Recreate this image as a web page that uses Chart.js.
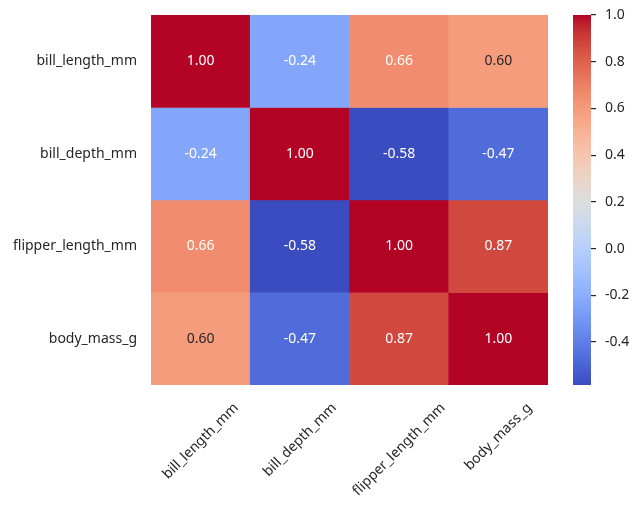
<!DOCTYPE html>
<html>
<head>
<meta charset="utf-8">
<script src="https://cdn.jsdelivr.net/npm/chart.js@4.4.1/dist/chart.umd.min.js"></script>
<style>
  html, body { margin: 0; padding: 0; background: #ffffff; }
  #wrap { position: relative; width: 640px; height: 510px; }
  canvas { position: absolute; left: 0; top: 0; }
</style>
</head>
<body>
<div id="wrap">
  <canvas id="heat" width="640" height="510"></canvas>
  <canvas id="cbar" width="640" height="510"></canvas>
</div>
<script>
// ---------- data ----------
const variables = ['bill_length_mm', 'bill_depth_mm', 'flipper_length_mm', 'body_mass_g'];
const rowBillLength  = [1.0000, -0.2351, 0.6562, 0.5951];
const rowBillDepth   = [-0.2351, 1.0000, -0.5839, -0.4719];
const rowFlipper     = [0.6562, -0.5839, 1.0000, 0.8712];
const rowBodyMass    = [0.5951, -0.4719, 0.8712, 1.0000];
const colorbarTicks  = [-0.4, -0.2, 0.0, 0.2, 0.4, 0.6, 0.8, 1.0];

const rows = [rowBillLength, rowBillDepth, rowFlipper, rowBodyMass];
const allVals = rows.flat();
const vmin = Math.min(...allVals);
const vmax = Math.max(...allVals);

// ---------- coolwarm colormap ----------
const coolwarm = [
  [59,76,192],[68,90,204],[77,104,215],[87,117,225],[98,130,234],[108,142,241],
  [119,154,247],[130,165,251],[141,176,254],[152,185,255],[163,194,255],[174,201,253],
  [184,208,249],[194,213,244],[204,217,238],[213,219,230],[221,221,221],[229,216,209],
  [236,211,197],[241,204,185],[245,196,173],[247,187,160],[247,177,148],[247,166,135],
  [244,154,123],[241,141,111],[236,127,99],[229,112,88],[222,96,77],[213,80,66],
  [203,62,56],[192,40,47],[180,4,38]
];
function cmapRGB(t) {
  t = Math.max(0, Math.min(1, t));
  const p = t * (coolwarm.length - 1);
  const i = Math.min(Math.floor(p), coolwarm.length - 2);
  const f = p - i;
  const a = coolwarm[i], b = coolwarm[i + 1];
  return [0,1,2].map(k => a[k] + (b[k] - a[k]) * f);
}
function rgbStr(c) { return 'rgb(' + c.map(v => Math.round(v)).join(',') + ')'; }
function norm(v) { return (v - vmin) / (vmax - vmin); }
function luminance(c) {
  const lin = c.map(v => { v /= 255; return v <= 0.03928 ? v / 12.92 : Math.pow((v + 0.055) / 1.055, 2.4); });
  return 0.2126 * lin[0] + 0.7152 * lin[1] + 0.0722 * lin[2];
}

const FONT = '"Noto Sans", "DejaVu Sans", sans-serif';
const TEXT = '#262626';
const H_TOP = 15, H_BOTTOM = 385, H_LEFT = 151, H_RIGHT = 548;

// ---------- annotation + rotated x labels ----------
const heatText = {
  id: 'heatText',
  afterDatasetsDraw(chart) {
    const ctx = chart.ctx, xs = chart.scales.x, ys = chart.scales.y;
    ctx.save();
    ctx.font = '14px ' + FONT;
    ctx.textAlign = 'center';
    ctx.textBaseline = 'middle';
    rows.forEach((row, i) => {
      row.forEach((v, j) => {
        const c = cmapRGB(norm(v));
        ctx.fillStyle = luminance(c) > 0.408 ? TEXT : '#ffffff';
        ctx.fillText(v.toFixed(2), xs.getPixelForValue(j), ys.getPixelForValue(i + 0.5));
      });
    });
    // rotated x tick labels (centered, like matplotlib ha='center', rotation=45)
    ctx.fillStyle = TEXT;
    const top = chart.chartArea.bottom + 15;
    const hh = 16;
    variables.forEach((lab, j) => {
      const w = ctx.measureText(lab).width;
      const cx = xs.getPixelForValue(j);
      const cy = top + (w + hh) / (2 * Math.SQRT2);
      ctx.save();
      ctx.translate(cx, cy);
      ctx.rotate(-Math.PI / 4);
      ctx.fillText(lab, 0, 0);
      ctx.restore();
    });
    ctx.restore();
  }
};

new Chart(document.getElementById('heat'), {
  type: 'bar',
  data: {
    labels: variables,
    datasets: rows.map((row, i) => ({
      label: variables[i],
      data: row.map(() => [i, i + 1]),
      backgroundColor: row.map(v => rgbStr(cmapRGB(norm(v)))),
      borderWidth: 0,
      barPercentage: 1,
      categoryPercentage: 1,
      grouped: false
    }))
  },
  options: {
    responsive: false,
    animation: false,
    devicePixelRatio: 1,
    layout: { padding: { top: H_TOP, right: 640 - H_RIGHT, left: 0, bottom: 0 } },
    plugins: { legend: { display: false }, tooltip: { enabled: false } },
    scales: {
      x: {
        type: 'category',
        grid: { display: false, drawTicks: false },
        border: { display: false },
        ticks: { display: false },
        afterFit(s) { s.height = 510 - H_BOTTOM; s.paddingLeft = 0; s.paddingRight = 0; }
      },
      y: {
        type: 'linear',
        min: 0, max: variables.length,
        reverse: true,
        grid: { display: false, drawTicks: false },
        border: { display: false },
        afterBuildTicks(s) { s.ticks = variables.map((_, i) => ({ value: i + 0.5 })); },
        ticks: {
          autoSkip: false,
          padding: 14,
          color: TEXT,
          font: { family: FONT, size: 14 },
          callback: (v) => variables[Math.floor(v)]
        },
        afterFit(s) { s.width = H_LEFT; s.paddingTop = 0; s.paddingBottom = 0; }
      }
    }
  },
  plugins: [heatText]
});

// ---------- colorbar ----------
const CB_LEFT = 573, CB_RIGHT = 591;
new Chart(document.getElementById('cbar'), {
  type: 'bar',
  data: {
    labels: [''],
    datasets: [{
      data: [[vmin, vmax]],
      backgroundColor(ctx) {
        const ch = ctx.chart, ca = ch.chartArea;
        if (!ca) return 'rgba(0,0,0,0)';
        const g = ch.ctx.createLinearGradient(0, ca.bottom, 0, ca.top);
        coolwarm.forEach((c, k) => g.addColorStop(k / (coolwarm.length - 1), rgbStr(c)));
        return g;
      },
      borderWidth: 0,
      barPercentage: 1,
      categoryPercentage: 1
    }]
  },
  options: {
    responsive: false,
    animation: false,
    devicePixelRatio: 1,
    layout: { padding: { top: H_TOP, left: CB_LEFT, right: 0, bottom: 510 - H_BOTTOM } },
    plugins: { legend: { display: false }, tooltip: { enabled: false } },
    scales: {
      x: { display: false },
      y: {
        position: 'right',
        min: vmin, max: vmax,
        border: { display: false },
        grid: { drawOnChartArea: false, drawTicks: true, tickLength: 5, tickColor: TEXT, lineWidth: 1.2 },
        afterBuildTicks(s) { s.ticks = colorbarTicks.map(v => ({ value: v })); },
        ticks: {
          autoSkip: false,
          padding: 9,
          color: TEXT,
          font: { family: FONT, size: 14 },
          callback: (v) => Number(v).toFixed(1)
        },
        afterFit(s) { s.width = 640 - CB_RIGHT; s.paddingTop = 0; s.paddingBottom = 0; }
      }
    }
  }
});
</script>
</body>
</html>
